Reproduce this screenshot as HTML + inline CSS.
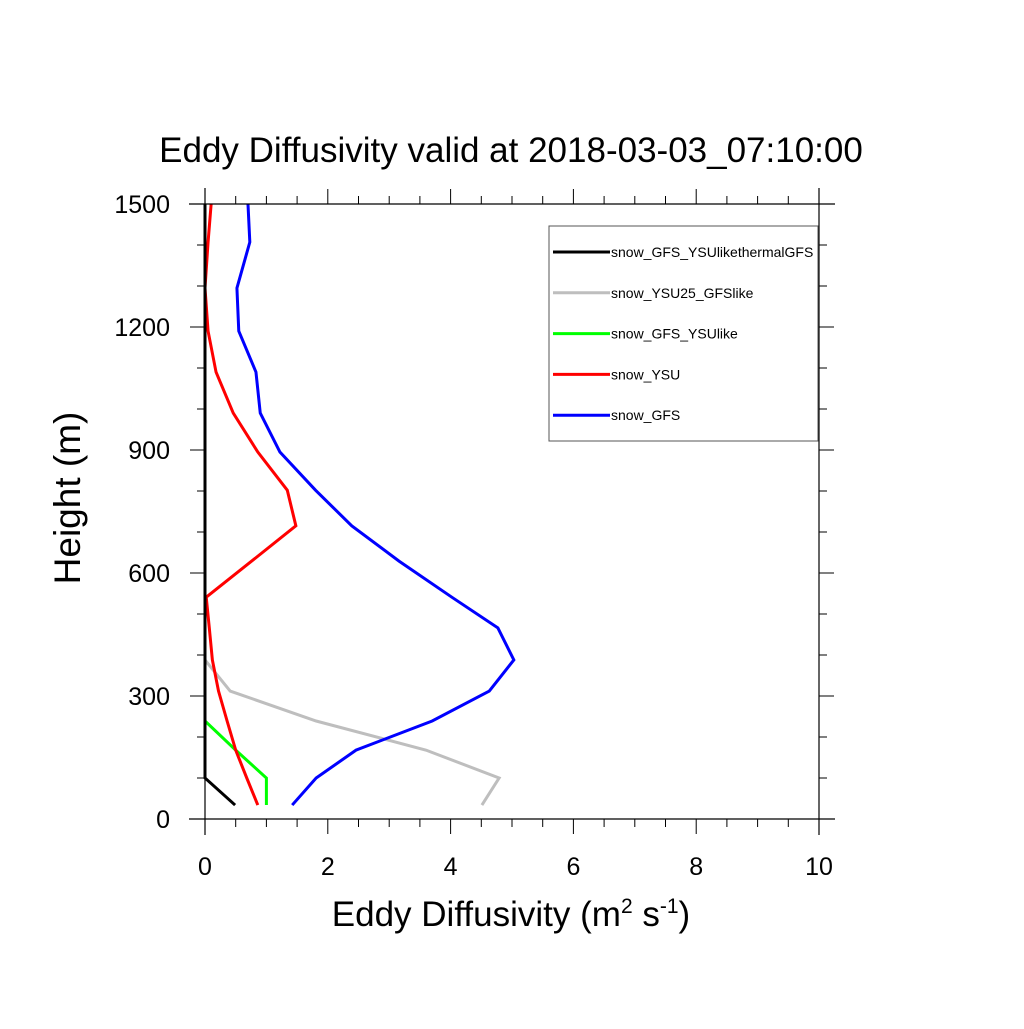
<!DOCTYPE html>
<html><head><meta charset="utf-8"><style>
body{margin:0;background:#fff}
svg{font-family:"Liberation Sans",sans-serif}
</style></head><body>
<svg id="chart" width="1024" height="1024">
<text x="511" y="162" font-size="35" text-anchor="middle">Eddy Diffusivity valid at 2018-03-03_07:10:00</text>
<g id="ticks"></g>
<g id="series"></g>
<g stroke="#000" stroke-width="1.2">
<line x1="189" x2="835" y1="204" y2="204"/>
<line x1="189" x2="835" y1="819" y2="819"/>
<line x1="205" x2="205" y1="188" y2="835"/>
<line x1="819" x2="819" y1="188" y2="835"/>
</g>
<text transform="translate(80,498) rotate(-90)" font-size="37" text-anchor="middle">Height (m)</text>
<text x="511" y="926" font-size="35" text-anchor="middle">Eddy Diffusivity (m<tspan dy="-13" font-size="21">2</tspan><tspan dy="13"> s</tspan><tspan dy="-13" font-size="21">-1</tspan><tspan dy="13">)</tspan></text>
<g>
<rect x="549" y="226" width="269" height="215" fill="#fff" stroke="#555" stroke-width="1"/>
<g id="legend-items"></g>
</g>
</svg>
<script>
const heights=[34,100,168,239,312,388,466,541,629,715,802,895,990,1090,1190,1295,1407,1500];
const snowGFS=[1.42,1.81,2.46,3.70,4.63,5.03,4.77,4.02,3.16,2.39,1.80,1.22,0.90,0.83,0.55,0.52,0.73,0.70];
const snowYSU=[0.86,0.68,0.50,0.36,0.22,0.12,0.07,0.02,0.76,1.48,1.34,0.86,0.46,0.18,0.05,0,0.05,0.10];
const snowGFSYSUlike=[1.0,1.0,0.5,0,0,0,0,0,0,0,0,0,0,0,0,0,0,0];
const snowYSU25=[4.51,4.79,3.60,1.81,0.41,0,0,0,0,0,0,0,0,0,0,0,0,0];
const snowThermal=[0.49,0,0,0,0,0,0,0,0,0,0,0,0,0,0,0,0,0];
const seriesNames=["snow_GFS_YSUlikethermalGFS","snow_YSU25_GFSlike","snow_GFS_YSUlike","snow_YSU","snow_GFS"];
const xTicks=[0,2,4,6,8,10];
const yTicks=[0,300,600,900,1200,1500];
const NS="http://www.w3.org/2000/svg";
const X=v=>205+v*61.4, Y=h=>819-h*0.41;
function mk(t,a,p){const e=document.createElementNS(NS,t);for(const k in a)e.setAttribute(k,a[k]);p.appendChild(e);return e;}
const tg=document.getElementById('ticks');
for(let v=0;v<=10.001;v+=0.5){const maj=Math.abs(v/2-Math.round(v/2))<1e-6,L=maj?15:8;
 const a=mk('line',{x1:X(v),x2:X(v),y1:819,y2:819+L,stroke:'#000','stroke-width':1},tg);
 
 const b=mk('line',{x1:X(v),x2:X(v),y1:204,y2:204-L,stroke:'#000','stroke-width':1},tg);
 }
for(let h=0;h<=1500;h+=100){const L=h%300==0?15:8;
 const a=mk('line',{x1:205-L,x2:205,y1:Y(h),y2:Y(h),stroke:'#000','stroke-width':1},tg);
 
 const b=mk('line',{x1:819,x2:819+L,y1:Y(h),y2:Y(h),stroke:'#000','stroke-width':1},tg);
 }
xTicks.forEach(v=>{const t=mk('text',{x:X(v),y:875,'font-size':25,'text-anchor':'middle'},tg);t.textContent=v;
 });
yTicks.forEach(v=>{const t=mk('text',{x:170,y:Y(v)+9,'font-size':25,'text-anchor':'end'},tg);t.textContent=v;
 });
const sg=document.getElementById('series');
const data=[[snowYSU25,'#bebebe','snow-ysu25-gfslike'],[snowGFSYSUlike,'#00ff00','snow-gfs-ysulike'],[snowYSU,'#ff0000','snow-ysu'],[snowGFS,'#0000ff','snow-gfs'],[snowThermal,'#000','snow-gfs-ysulikethermalgfs']];
data.forEach(([arr,c,n])=>{const p=mk('polyline',{points:arr.map((v,i)=>X(v)+','+Y(heights[i])).join(' '),fill:'none',stroke:c,'stroke-width':3,'stroke-linejoin':'miter'},sg);
 });
const lg=document.getElementById('legend-items');const lc=['#000','#bebebe','#00ff00','#ff0000','#0000ff'];
seriesNames.forEach((s,i)=>{const y=252+i*40.8;
 const l=mk('line',{x1:553,x2:610,y1:y,y2:y,stroke:lc[i],'stroke-width':3},lg);
 
 const t=mk('text',{x:611,y:y+5,'font-size':14},lg);t.textContent=s;
 });
</script>
</body></html>
